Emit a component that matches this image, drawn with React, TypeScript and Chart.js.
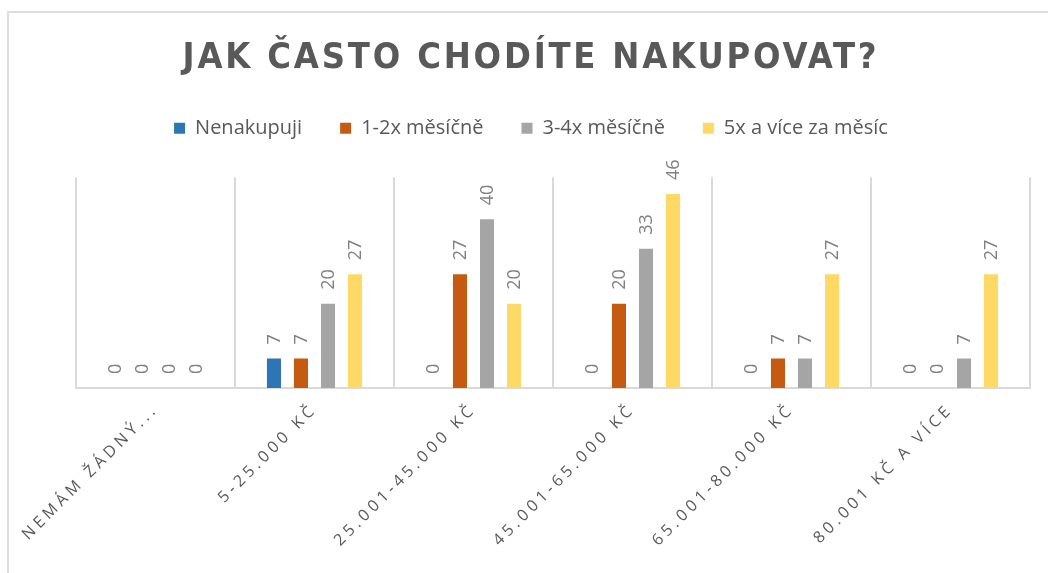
import { useEffect, useRef } from 'react';
import { Chart, registerables } from 'chart.js';

Chart.register(...registerables);

const categories = ['NEMÁM ŽÁDNÝ...', '5-25.000 KČ', '25.001-45.000 KČ', '45.001-65.000 KČ', '65.001-80.000 KČ', '80.001 KČ A VÍCE'];
const seriesNames = ['Nenakupuji', '1-2x měsíčně', '3-4x měsíčně', '5x a více za měsíc'];
const nenakupuji = [0, 7, 0, 0, 0, 0];
const jednou = [0, 7, 27, 20, 7, 0];
const trikrat = [0, 20, 40, 33, 7, 7];
const petkrat = [0, 27, 20, 46, 27, 27];
const seriesColors = ['#2E75B6', '#C55A11', '#A5A5A5', '#FFD966'];
const chartTitle = 'JAK ČASTO CHODÍTE NAKUPOVAT?';

const valueLabels = {
  id: 'valueLabels',
  afterDatasetsDraw(chart: any) {
    const ctx = chart.ctx;
    ctx.save();
    ctx.font = '18px "Open Sans"';
    ctx.fillStyle = '#7f7f7f';
    ctx.textAlign = 'left';
    ctx.textBaseline = 'middle';
    chart.data.datasets.forEach((ds: any, di: number) => {
      const meta = chart.getDatasetMeta(di);
      meta.data.forEach((bar: any, i: number) => {
        ctx.save();
        ctx.translate(bar.x + 1, bar.y - 14);
        ctx.rotate(-Math.PI / 2);
        ctx.fillText(String(ds.data[i]), 0, 0);
        ctx.restore();
      });
    });
    ctx.restore();
  },
};

const layoutTweaks = {
  id: 'layoutTweaks',
  beforeLayout(chart: any) {
    const lg = chart.legend;
    if (lg && !lg.__ext) {
      const f = lg.fit.bind(lg);
      lg.fit = () => {
        f();
        lg.height += 29;
      };
      lg.__ext = true;
    }
  },
  beforeDraw(chart: any) {
    const xs = chart.scales.x;
    if (xs && !xs.__ls) {
      const orig = xs.drawLabels.bind(xs);
      xs.drawLabels = (a: any) => {
        const c = xs.ctx;
        const p = c.letterSpacing;
        c.letterSpacing = '4px';
        orig(a);
        c.letterSpacing = p;
      };
      xs.__ls = true;
    }
    const tb = chart.titleBlock;
    if (tb && !tb.__ls) {
      const orig = tb.draw.bind(tb);
      tb.draw = (a: any) => {
        const c = tb.ctx;
        const p = c.letterSpacing;
        c.letterSpacing = '2.8px';
        orig(a);
        c.letterSpacing = p;
      };
      tb.__ls = true;
    }
  },
};

export default function App() {
  const ref = useRef<HTMLCanvasElement>(null);
  useEffect(() => {
    if (!ref.current) return;
    const data = [nenakupuji, jednou, trikrat, petkrat];
    const chart = new Chart(ref.current, {
      type: 'bar',
      data: {
        labels: categories,
        datasets: seriesNames.map((name, i) => ({
          label: name,
          data: data[i],
          backgroundColor: seriesColors[i],
          borderWidth: 0,
          categoryPercentage: 0.68,
          barPercentage: 0.52,
          yAxisID: 'y',
        })),
      },
      options: {
        animation: false,
        responsive: true,
        maintainAspectRatio: false,
        layout: { padding: { left: 14, right: 0, top: 0, bottom: 0 } },
        plugins: {
          tooltip: { enabled: false },
          title: {
            display: true,
            text: chartTitle,
            color: '#595959',
            font: { family: '"Liberation Sans Narrow", "DejaVu Sans Condensed", sans-serif', size: 36, weight: 'bold', lineHeight: 1.2 },
            padding: { top: 37, bottom: 0 },
          },
          legend: {
            display: true,
            position: 'top',
            labels: {
              boxWidth: 11,
              boxHeight: 11,
              padding: 38,
              color: '#595959',
              font: { family: '"Open Sans"', size: 20 },
            },
          },
        },
        scales: {
          x: {
            offset: true,
            grid: { display: true, color: '#d9d9d9', lineWidth: 2, drawTicks: false, offset: true },
            border: { display: true, color: '#d9d9d9', width: 2 },
            ticks: {
              color: '#595959',
              font: { family: '"Open Sans"', size: 16 },
              minRotation: 45,
              maxRotation: 45,
              autoSkip: false,
              padding: 12,
            },
            afterFit(scale: any) {
              scale.height = 185;
            },
          },
          y: {
            display: true,
            position: 'left',
            min: 0,
            max: 50,
            grid: { display: false, drawTicks: false },
            border: { display: false },
            ticks: { display: false },
            afterFit(scale: any) {
              scale.width = 62;
            },
          },
          yRight: {
            display: true,
            position: 'right',
            min: 0,
            max: 50,
            grid: { display: false, drawTicks: false },
            border: { display: false },
            ticks: { display: false },
            afterFit(scale: any) {
              scale.width = 18;
            },
          },
        },
      },
      plugins: [valueLabels, layoutTweaks],
    });
    return () => chart.destroy();
  }, []);
  return (
    <div style={{ position: 'absolute', left: 0, top: 0, width: 1048, height: 573, background: '#fff', overflow: 'hidden' }}>
      <div style={{ position: 'absolute', left: 7, top: 11, width: 1060, height: 600, borderTop: '2px solid #dedede', borderLeft: '2px solid #dedede' }} />
      <canvas ref={ref} style={{ position: 'absolute', left: 0, top: 0, width: 1048, height: 573 }} />
    </div>
  );
}
